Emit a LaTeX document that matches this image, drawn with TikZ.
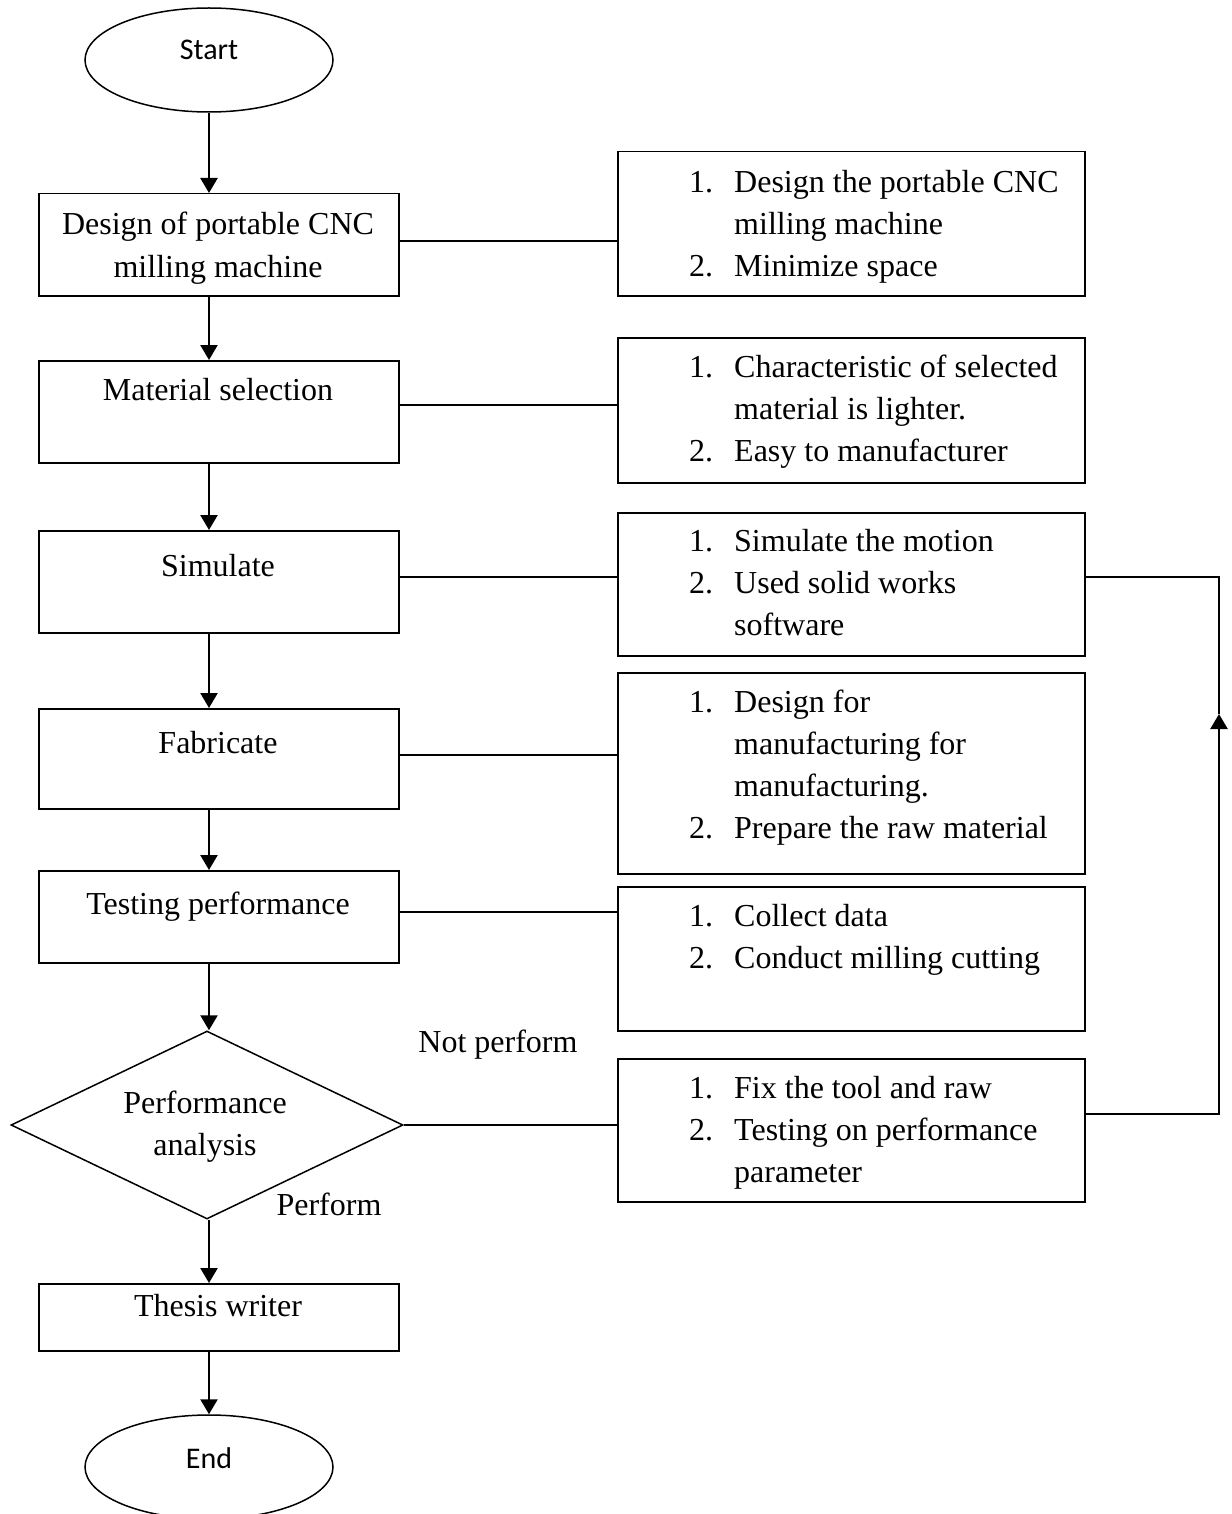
\documentclass[tikz,border=0pt]{standalone}
\usepackage{fontspec}
\setmainfont{Liberation Serif}
\newfontfamily\calibrifont{Carlito}
\usetikzlibrary{shapes.geometric,arrows.meta}

\begin{document}
\begin{tikzpicture}[x=1pt,y=-1pt,
  procbox/.style={draw, line width=1.5pt, rectangle, inner sep=0pt,
                  minimum width=360pt, anchor=north west},
  notebox/.style={draw, line width=1.5pt, rectangle, inner sep=0pt,
                  minimum width=467pt, anchor=north west},
  term/.style={draw, line width=1.5pt, ellipse, inner sep=0pt,
               minimum width=248pt, minimum height=104pt},
  decide/.style={draw, line width=1.5pt, diamond, inner sep=0pt,
                 minimum width=392pt, minimum height=188pt, aspect=2.08},
  txt/.style={font=\fontsize{32}{42}\selectfont, inner sep=0pt, anchor=base},
  termtxt/.style={font=\calibrifont\fontsize{30}{36}\selectfont, inner sep=0pt, anchor=base},
  listtxt/.style={font=\fontsize{32}{42}\selectfont, inner sep=0pt, anchor=north west},
  flow/.style={line width=2.4pt, -{Triangle[length=15pt,width=17pt]}},
  link/.style={line width=1.8pt},
  back/.style={line width=1.3pt}
]
\clip (0,0) rectangle (1231,1514);
\useasboundingbox (0,0) rectangle (1231,1514);

% terminals
\node[term] (start) at (209,60) {};
\node[termtxt] (starttxt) at (209,60) {Start};
\node[term] (end) at (209,1467) {};
\node[termtxt] (endtxt) at (209,1468) {End};

% main process boxes
\node[procbox, minimum height=102pt] (b1) at (38,193) {};
\node[txt] (b1a) at (218,235) {Design of portable CNC};
\node[txt] (b1b) at (218,277) {milling machine};

\node[procbox, minimum height=102pt] (b2) at (38,360) {};
\node[txt] (b2a) at (218,400) {Material selection};

\node[procbox, minimum height=102pt] (b3) at (38,530) {};
\node[txt] (b3a) at (218,576) {Simulate};

\node[procbox, minimum height=100pt] (b4) at (38,708) {};
\node[txt] (b4a) at (218,753) {Fabricate};

\node[procbox, minimum height=92pt] (b5) at (38,870) {};
\node[txt] (b5a) at (218,914) {Testing performance};

\node[decide] (dia) at (207,1125) {};
\node[txt] (diaa) at (205,1113) {Performance};
\node[txt] (diab) at (205,1155) {analysis};

\node[procbox, minimum height=67pt] (b6) at (38,1283) {};
\node[txt] (b6a) at (218,1316) {Thesis writer};

\node[txt] (notperf) at (498,1052) {Not perform};
\node[txt] (perf) at (329,1215) {Perform};

% note boxes
\node[notebox, minimum height=144pt] (r1) at (617,151) {};
\node[listtxt] (l1) at (689,162.6) {\begin{tabular}{@{}p{45pt}@{}l@{}}
1.&Design the portable CNC\\ &milling machine\\ 2.&Minimize space\end{tabular}};

\node[notebox, minimum height=145pt] (r2) at (617,337) {};
\node[listtxt] (l2) at (689,347.6) {\begin{tabular}{@{}p{45pt}@{}l@{}}
1.&Characteristic of selected\\ &material is lighter.\\ 2.&Easy to manufacturer\end{tabular}};

\node[notebox, minimum height=143pt] (r3) at (617,512) {};
\node[listtxt] (l3) at (689,521.6) {\begin{tabular}{@{}p{45pt}@{}l@{}}
1.&Simulate the motion\\ 2.&Used solid works\\ &software\end{tabular}};

\node[notebox, minimum height=201pt] (r4) at (617,672) {};
\node[listtxt] (l4) at (689,682.6) {\begin{tabular}{@{}p{45pt}@{}l@{}}
1.&Design for\\ &manufacturing for\\ &manufacturing.\\ 2.&Prepare the raw material\end{tabular}};

\node[notebox, minimum height=144pt] (r5) at (617,886) {};
\node[listtxt] (l5) at (689,896.6) {\begin{tabular}{@{}p{45pt}@{}l@{}}
1.&Collect data\\ 2.&Conduct milling cutting\end{tabular}};

\node[notebox, minimum height=143pt] (r6) at (617,1058) {};
\node[listtxt] (l6) at (689,1068.6) {\begin{tabular}{@{}p{45pt}@{}l@{}}
1.&Fix the tool and raw\\ 2.&Testing on performance\\ &parameter\end{tabular}};

% main flow
\draw[flow] (start.south) -- (start.south |- b1.north);
\draw[flow] (b1.south -| start) -- (b2.north -| start);
\draw[flow] (b2.south -| start) -- (b3.north -| start);
\draw[flow] (b3.south -| start) -- (b4.north -| start);
\draw[flow] (b4.south -| start) -- (b5.north -| start);
\draw[flow] (b5.south -| start) -- (start |- dia.north);
\draw[flow] (start |- dia.south) -- (start |- b6.north);
\draw[flow] (b6.south -| start) -- (end.north);

% links to the notes
\coordinate (k1) at (0,241);
\coordinate (k2) at (0,405);
\coordinate (k3) at (0,577);
\coordinate (k4) at (0,755);
\coordinate (k5) at (0,912);
\coordinate (k6) at (0,1120);
\draw[link] (b1.east |- k1) -- (r1.west |- k1);
\draw[link] (b2.east |- k2) -- (r2.west |- k2);
\draw[link] (b3.east |- k3) -- (r3.west |- k3);
\draw[link] (b4.east |- k4) -- (r4.west |- k4);
\draw[link] (b5.east |- k5) -- (r5.west |- k5);
\draw[link] (dia.east) -- (r6.west |- dia.east);

% feedback loop
\coordinate (fbBot) at (1219,1114);
\coordinate (fbTip) at (1219,714);
\coordinate (fbTop) at (1219,577);
\draw[flow] (r6.east |- fbBot) -- (fbBot) -- (fbTip);
\draw[back] (fbTip) -- (fbTop) -- (r3.east |- fbTop);
\end{tikzpicture}
\end{document}
